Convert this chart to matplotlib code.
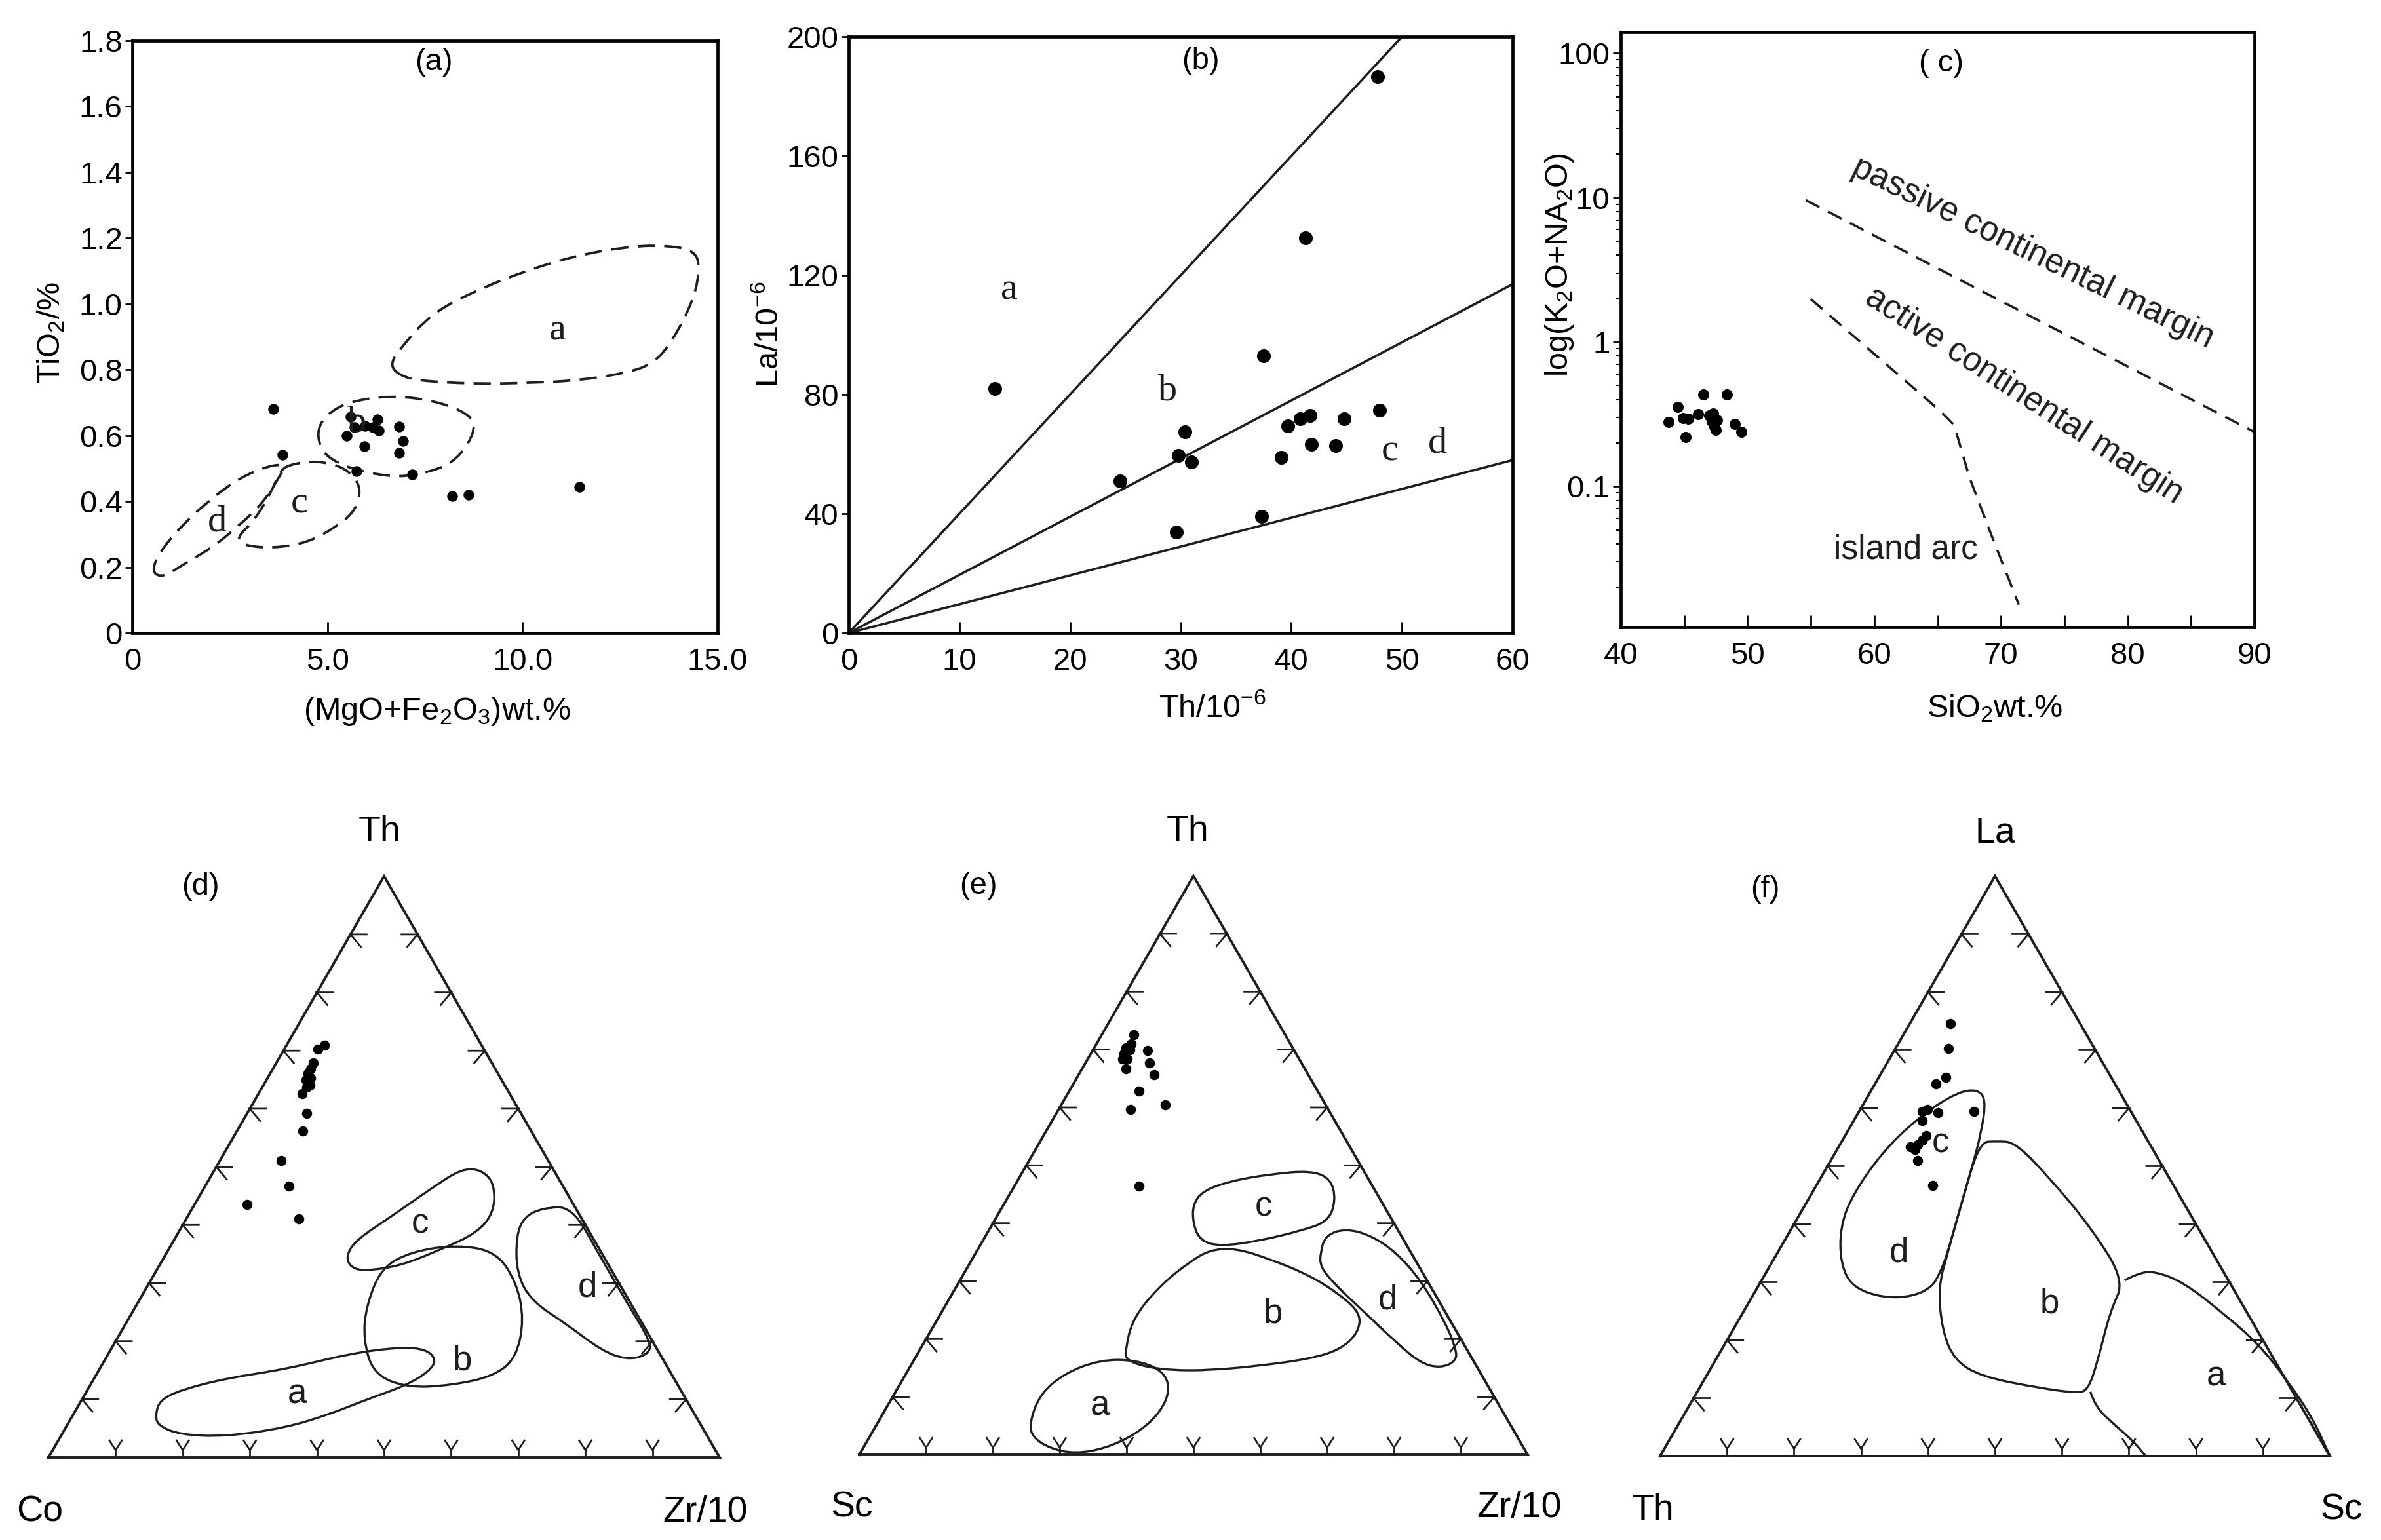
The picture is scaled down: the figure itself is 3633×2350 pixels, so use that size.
import numpy as np
import matplotlib
matplotlib.use("Agg")
import matplotlib.pyplot as plt
from matplotlib.path import Path
from matplotlib.patches import PathPatch
from matplotlib.ticker import FixedLocator, NullFormatter, LogLocator

plt.rcParams["font.family"] = ["Liberation Sans", "DejaVu Sans"]
plt.rcParams["mathtext.fontset"] = "custom"
plt.rcParams["mathtext.rm"] = "Liberation Sans"
plt.rcParams["mathtext.default"] = "regular"

# ---------------- data: (a) TiO2 vs MgO+Fe2O3 ----------------
a_mgfe = [3.61, 3.85, 5.60, 5.50, 5.70, 5.94, 5.97, 6.16, 6.28, 6.31, 6.83, 6.93,
          6.83, 5.75, 7.18, 8.19, 8.62, 11.45]
a_tio2 = [0.68, 0.542, 0.657, 0.60, 0.625, 0.567, 0.63, 0.625, 0.65, 0.615, 0.627, 0.584,
          0.548, 0.492, 0.482, 0.416, 0.42, 0.445]
# dashed fields
fa_x = [6.59, 6.83, 7.70, 8.93, 10.16, 11.39, 12.62, 13.61, 14.47, 14.53, 14.35, 13.85,
        13.36, 12.62, 11.39, 10.16, 8.93, 7.70, 6.96]
fa_y = [0.810, 0.861, 0.975, 1.047, 1.104, 1.147, 1.173, 1.179, 1.162, 1.090, 1.004, 0.889,
        0.818, 0.789, 0.767, 0.760, 0.757, 0.763, 0.775]
fb_x = [4.74, 5.23, 5.97, 6.83, 7.70, 8.44, 8.81, 8.62, 8.19, 7.57, 6.83, 5.97, 5.23, 4.80]
fb_y = [0.631, 0.688, 0.713, 0.720, 0.706, 0.677, 0.638, 0.574, 0.516, 0.488, 0.473, 0.488,
        0.516, 0.559]
fc_x = [4.00, 4.74, 5.48, 5.87, 5.73, 5.23, 4.50, 3.63, 2.89, 2.65, 3.14, 3.57, 3.76]
fc_y = [0.512, 0.524, 0.502, 0.445, 0.373, 0.323, 0.275, 0.258, 0.265, 0.287, 0.344, 0.430,
        0.488]
fd_x = [0.49, 0.68, 1.29, 2.03, 2.77, 3.51, 3.94, 3.69, 3.33, 2.77, 2.03, 1.29, 0.80]
fd_y = [0.184, 0.244, 0.330, 0.409, 0.473, 0.509, 0.512, 0.459, 0.394, 0.330, 0.258, 0.208,
        0.169]

# ---------------- data: (b) La vs Th ----------------
b_th = [13.2, 24.5, 30.4, 29.8, 31.0, 29.6, 37.5, 37.3, 41.3, 47.8, 39.1, 39.7, 40.8, 41.7,
        41.8, 44.0, 44.8, 48.0]
b_la = [81.9, 51.0, 67.5, 59.6, 57.4, 33.9, 93.0, 39.1, 132.6, 186.7, 59.0, 69.4, 71.8, 72.9,
        63.4, 62.8, 71.8, 74.8]
b_line_th = [50, 60, 60]
b_line_la = [200, 117, 58]

# ---------------- data: (c) K2O+Na2O vs SiO2 ----------------
c_si = [43.8, 44.5, 44.9, 45.3, 45.1, 46.1, 46.5, 47.0, 47.2, 47.4, 47.3, 47.6, 47.5, 48.4,
        49.0, 49.5]
c_alk = [0.280, 0.354, 0.298, 0.293, 0.220, 0.318, 0.434, 0.309, 0.282, 0.260, 0.321, 0.287,
         0.247, 0.434, 0.270, 0.238]
c_pass_si = [54.6, 90.0]
c_pass_v = [9.6, 0.238]
c_arc_si = [55.0, 65.2, 66.3, 67.5, 69.2, 71.4]
c_arc_v = [1.98, 0.333, 0.266, 0.116, 0.047, 0.0152]

# ---------------- data: (d) Th - Co - Zr/10 (top %, right %) ----------------
d_th = [70.9, 70.3, 67.9, 66.9, 66.1, 65.3, 64.9, 64.1, 63.7, 62.6, 59.2, 56.1, 51.1, 46.7,
        43.5, 41.0]
d_zr = [5.7, 5.0, 5.5, 5.6, 5.6, 6.4, 5.9, 6.9, 6.6, 6.5, 8.9, 9.8, 9.1, 12.5, 7.8, 16.8]
da_t = [7.5, 9.9, 11.6, 13.6, 15.2, 17.9, 19.0, 18.6, 16.8, 14.8, 12.4, 9.9, 7.5, 5.1, 3.6, 3.9, 5.5]
da_r = [12.2, 11.7, 13.9, 19.6, 27.8, 36.1, 43.0, 47.0, 49.4, 49.3, 47.1, 42.3, 38.3, 32.8, 24.6,
        17.7, 13.5]
db_t = [26.1, 32.6, 35.4, 36.6, 35.4, 30.1, 23.7, 17.2, 14.0, 12.4, 12.0, 14.4, 20.4]
db_r = [34.3, 33.3, 36.3, 42.5, 49.0, 54.7, 59.0, 61.1, 59.4, 53.8, 47.3, 41.2, 36.7]
dc_t = [34.6, 37.4, 41.4, 46.3, 49.7, 49.5, 47.1, 42.2, 38.6, 35.8, 33.0, 32.1, 32.6]
dc_r = [27.0, 27.1, 30.3, 33.9, 36.7, 39.8, 42.9, 45.3, 44.5, 40.6, 36.0, 31.3, 28.8]
dd_t = [38.2, 41.4, 42.9, 43.2, 35.0, 26.5, 19.6, 17.6, 16.8, 18.4, 22.9, 26.9, 31.7]
dd_r = [50.6, 50.2, 52.1, 56.4, 64.5, 73.0, 80.1, 80.4, 77.8, 73.2, 65.8, 58.5, 53.9]

# ---------------- data: (e) Th - Sc - Zr/10 ----------------
e_th = [72.6, 71.0, 70.3, 70.0, 69.3, 68.4, 68.4, 66.7, 69.9, 67.7, 65.7, 62.8, 59.7, 60.5, 46.4]
e_zr = [4.8, 5.2, 4.8, 5.5, 5.0, 5.9, 5.2, 6.6, 8.2, 9.6, 11.3, 10.5, 10.7, 15.5, 18.7]
ea_t = [5.6, 10.5, 14.1, 16.4, 16.4, 14.6, 11.3, 7.2, 3.5, 1.1, 0.2, 1.1, 3.1]
ea_r = [22.7, 21.8, 23.7, 27.8, 33.1, 38.1, 40.9, 41.4, 39.6, 36.2, 32.2, 28.0, 24.3]
eb_t = [17.8, 23.5, 29.3, 33.4, 35.4, 35.7, 33.8, 30.9, 27.6, 24.4, 21.1, 18.2, 16.6, 15.4, 14.6,
        14.6, 15.4, 16.6]
eb_r = [30.9, 29.1, 30.4, 32.8, 34.8, 38.4, 44.6, 52.1, 58.2, 62.8, 64.1, 62.9, 59.2, 52.3, 45.2,
        39.2, 34.3, 31.6]
ec_t = [43.2, 45.6, 47.3, 48.5, 49.1, 47.7, 44.0, 40.3, 38.7, 37.0, 36.0, 37.0, 39.9]
ec_r = [28.3, 28.6, 31.9, 37.3, 43.0, 46.7, 49.3, 50.0, 46.7, 41.5, 36.0, 32.5, 30.0]
ed_t = [35.0, 37.9, 39.1, 37.9, 35.0, 30.1, 22.7, 18.2, 16.2, 15.0, 15.8, 19.5, 24.4, 29.3, 32.5]
ed_r = [51.5, 50.8, 53.2, 57.6, 62.8, 69.0, 76.4, 80.2, 81.2, 79.5, 76.1, 70.5, 63.6, 56.6, 52.7]

# ---------------- data: (f) La - Th - Sc ----------------
f_la = [74.6, 70.3, 65.3, 64.2, 59.8, 59.4, 59.2, 59.4, 57.8, 55.3, 54.5, 53.7, 53.3, 52.9,
        51.0, 46.7]
f_sc = [6.0, 7.9, 10.0, 9.1, 10.0, 9.4, 11.9, 17.2, 10.2, 12.1, 11.9, 11.6, 10.7, 11.6, 13.0, 17.4]
fcd_t = [63.4, 61.8, 55.7, 49.3, 43.6, 34.7, 31.5, 29.1, 27.5, 27.3, 29.1, 33.1, 39.6, 45.2,
         52.5, 58.2, 62.2]
fcd_r = [15.2, 17.8, 20.1, 21.8, 23.2, 25.5, 26.0, 26.0, 23.9, 19.6, 14.2, 10.4, 7.1, 6.2,
         7.0, 9.3, 12.4]
ffb_t = [54.1, 54.3, 54.1, 47.7, 39.6, 30.3, 25.0, 16.2, 11.3, 10.9, 11.7, 13.7, 16.6, 21.8,
         29.1, 34.7, 43.6]
ffb_r = [20.6, 23.1, 26.0, 34.5, 44.4, 54.2, 54.7, 57.2, 58.2, 56.6, 51.0, 41.1, 35.6, 31.2,
         27.0, 25.5, 23.2]
fa_top_t = [30.3, 31.5, 31.9, 29.9, 24.6, 19.4, 12.9, 6.5, 0.0]
fa_top_r = [54.2, 55.5, 57.9, 63.3, 71.8, 79.6, 87.3, 94.2, 100.0]
fa_bot_t = [11.1, 8.5, 5.3, 2.4, 0.0]
fa_bot_r = [58.7, 60.7, 65.3, 69.6, 72.5]

FW, FH = 3633, 2350
fig = plt.figure(figsize=(FW / 100, FH / 100), dpi=100)


def px_axes(l, t, r, b):
    return fig.add_axes([l / FW, 1 - b / FH, (r - l) / FW, (b - t) / FH])


def ftext(x, y, s, **kw):
    fig.text(x / FW, 1 - y / FH, s, ha="center", va="center", **kw)


def smooth_closed(xs, ys):
    pts = np.column_stack([xs, ys])
    mids = (pts + np.roll(pts, -1, axis=0)) / 2
    verts = [mids[-1]]
    codes = [Path.MOVETO]
    for i in range(len(pts)):
        verts += [pts[i], mids[i]]
        codes += [Path.CURVE3, Path.CURVE3]
    return Path(verts, codes)


def smooth_open(xs, ys):
    pts = np.column_stack([xs, ys])
    verts = [pts[0]]
    codes = [Path.MOVETO]
    for i in range(1, len(pts) - 1):
        verts += [pts[i], (pts[i] + pts[i + 1]) / 2]
        codes += [Path.CURVE3, Path.CURVE3]
    verts.append(pts[-1])
    codes.append(Path.LINETO)
    return Path(verts, codes)


def frame(ax):
    for sp in ax.spines.values():
        sp.set_linewidth(3.4)


TICK = 34
LABEL = 35
SERIF = ["Liberation Serif", "DejaVu Serif"]
INK = "#1e1e1e"

# ---------------- (a) ----------------
ax = px_axes(202, 62, 1095, 966)
frame(ax)
ax.set_xlim(0, 15)
ax.set_ylim(0, 1.8)
ax.set_xticks([0, 5, 10, 15])
ax.set_xticklabels(["0", "5.0", "10.0", "15.0"])
ax.set_yticks(np.arange(0, 1.81, 0.2))
ax.set_yticklabels(["0"] + [f"{v:.1f}" for v in np.arange(0.2, 1.81, 0.2)])
ax.tick_params(axis="x", direction="in", length=12, width=2, pad=16, labelsize=TICK)
ax.tick_params(axis="y", direction="out", length=8, width=2, pad=3, labelsize=TICK)
for xs, ys in [(fa_x, fa_y), (fb_x, fb_y), (fc_x, fc_y), (fd_x, fd_y)]:
    ax.add_patch(PathPatch(smooth_closed(xs, ys), fill=False, lw=2.7,
                           ls=(0, (7, 3.8)), color=INK))
ax.scatter(a_mgfe, a_tio2, s=140, c="black", lw=0, zorder=3)
for lab, x, y in [("a", 10.9, 0.918), ("b", 5.75, 0.64), ("c", 4.27, 0.394), ("d", 2.18, 0.337)]:
    ax.text(x, y, lab, fontsize=42, family=SERIF, ha="center", va="center", color=INK)
ax.text(7.73, 1.735, "(a)", fontsize=TICK, ha="center", va="center")
ftext(667, 1085, "(MgO+Fe$_2$O$_3$)wt.%", fontsize=LABEL)
ftext(78, 508, "TiO$_2$/%", fontsize=LABEL, rotation=90)

# ---------------- (b) ----------------
ax = px_axes(1295, 56, 2308, 966)
frame(ax)
ax.set_xlim(0, 60)
ax.set_ylim(0, 200)
ax.set_xticks(range(0, 61, 10))
ax.set_yticks(range(0, 201, 40))
ax.tick_params(axis="x", direction="in", length=12, width=2, pad=16, labelsize=TICK)
ax.tick_params(axis="y", direction="out", length=8, width=2, pad=3, labelsize=TICK)
for xe, ye in zip(b_line_th, b_line_la):
    ax.plot([0, xe], [0, ye], color=INK, lw=2.6)
ax.scatter(b_th, b_la, s=230, c="black", lw=0, zorder=3)
for lab, x, y in [("a", 14.5, 115), ("b", 28.8, 81.3), ("c", 48.9, 61.0), ("d", 53.2, 63.7)]:
    ax.text(x, y, lab, fontsize=42, family=SERIF, ha="center", va="center", color=INK)
ax.text(31.8, 191.8, "(b)", fontsize=TICK, ha="center", va="center")
ftext(1850, 1081, "Th/10$^{-6}$", fontsize=LABEL)
ftext(1174, 510, "La/10$^{-6}$", fontsize=LABEL, rotation=90)

# ---------------- (c) ----------------
ax = px_axes(2473, 49, 3440, 957)
frame(ax)
ax.set_xlim(40, 90)
ax.set_yscale("log")
ax.set_ylim(0.0106, 140)
ax.set_xticks(range(40, 91, 10))
ax.xaxis.set_minor_locator(FixedLocator(range(45, 90, 10)))
ax.set_yticks([0.1, 1, 10, 100])
ax.set_yticklabels(["0.1", "1", "10", "100"])
ax.yaxis.set_minor_locator(LogLocator(base=10, subs=np.arange(2, 10)))
ax.yaxis.set_minor_formatter(NullFormatter())
ax.tick_params(axis="x", which="both", direction="in", length=13, width=2, pad=16,
               labelsize=TICK)
ax.tick_params(axis="y", which="major", direction="out", length=9, width=2, pad=3,
               labelsize=TICK)
ax.tick_params(axis="y", which="minor", direction="out", length=5, width=1.5)
ax.plot(c_pass_si, c_pass_v, color=INK, lw=2.6, ls=(0, (6.5, 4)))
ax.plot(c_arc_si, c_arc_v, color=INK, lw=2.6, ls=(0, (6.5, 4)))
ax.scatter(c_si, c_alk, s=150, c="black", lw=0, zorder=3)
ax.text(72.5, 4.15, "passive continental margin", fontsize=37, rotation=-26,
        ha="center", va="center", color=INK)
ax.text(71.8, 0.424, "active continental margin", fontsize=37, rotation=-33,
        ha="center", va="center", color=INK)
ax.text(62.5, 0.0362, "island arc", fontsize=37, ha="center", va="center", color=INK)
ax.text(65.3, 85, "( c)", fontsize=TICK, ha="center", va="center")
ftext(3044, 1081, "SiO$_2$wt.%", fontsize=LABEL)
ftext(2379, 404, "log(K$_2$O+NA$_2$O)", fontsize=LABEL, rotation=90)

# ---------------- ternary diagrams ----------------
H = np.sqrt(3) / 2


def tern_xy(top, right):
    t = np.asarray(top, dtype=float) / 100
    r = np.asarray(right, dtype=float) / 100
    return r + t / 2, t * H


def tern_axes(lx, ly, w):
    m = 0.12
    ax = px_axes(lx - m * w, ly - (H + m) * w, lx + (1 + m) * w, ly + m * w)
    ax.set_xlim(-m, 1 + m)
    ax.set_ylim(-m, H + m)
    ax.axis("off")
    ax.plot([0, 1, 0.5, 0], [0, 0, H, 0], color=INK, lw=2.8, solid_joinstyle="miter")
    s = 0.024
    c50, s50 = np.cos(np.radians(50)), np.sin(np.radians(50))
    kw = dict(color=INK, lw=2.0, solid_joinstyle="miter")
    for k in range(1, 10):
        f = k / 10
        # left side
        px, py = f / 2, f * H
        ax.plot([px + s, px, px + s * c50], [py, py, py - s * s50], **kw)
        # right side
        px, py = 1 - f / 2, f * H
        ax.plot([px - s, px, px - s * c50], [py, py, py - s * s50], **kw)
        # base
        px = f
        st, arm = 0.011, 0.017
        dx, dy = arm * np.sin(np.radians(33)), arm * np.cos(np.radians(33))
        ax.plot([px, px], [0, st], **kw)
        ax.plot([px - dx, px, px + dx], [st + dy, st, st + dy], **kw)
    return ax


def tern_labels(ax, top, left, right, panel, top_pos, left_pos, right_pos, panel_pos):
    ax.text(*top_pos, top, fontsize=40, ha="center", va="center")
    ax.text(*left_pos, left, fontsize=40, ha="center", va="center")
    ax.text(*right_pos, right, fontsize=40, ha="center", va="center")
    ax.text(*panel_pos, panel, fontsize=TICK, ha="center", va="center")


def region(ax, t, r):
    x, y = tern_xy(t, r)
    ax.add_patch(PathPatch(smooth_closed(x, y), fill=False, lw=2.4, color=INK))


def region_label(ax, lab, t, r):
    x, y = tern_xy(t, r)
    ax.text(x, y, lab, fontsize=38, ha="center", va="center", color=INK)


# (d)
ax = tern_axes(74, 2224, 1024)
for t, r in [(da_t, da_r), (db_t, db_r), (dc_t, dc_r), (dd_t, dd_r)]:
    region(ax, t, r)
x, y = tern_xy(d_th, d_zr)
ax.scatter(x, y, s=125, c="black", lw=0, zorder=3)
for lab, t, r in [("a", 10.9, 31.6), ("b", 16.6, 53.4), ("c", 40.2, 35.3), ("d", 29.3, 65.7)]:
    region_label(ax, lab, t, r)
tern_labels(ax, "Th", "Co", "Zr/10", "(d)", (0.493, 0.932), (-0.013, -0.082),
            (0.978, -0.082), (0.226, 0.851))

# (e)
ax = tern_axes(1311, 2220, 1020)
for t, r in [(ea_t, ea_r), (eb_t, eb_r), (ec_t, ec_r), (ed_t, ed_r)]:
    region(ax, t, r)
x, y = tern_xy(e_th, e_zr)
ax.scatter(x, y, s=125, c="black", lw=0, zorder=3)
for lab, t, r in [("a", 8.4, 31.8), ("b", 24.4, 49.7), ("c", 42.8, 39.1), ("d", 26.8, 65.7)]:
    region_label(ax, lab, t, r)
tern_labels(ax, "Th", "Sc", "Zr/10", "(e)", (0.491, 0.932), (-0.011, -0.079),
            (0.987, -0.079), (0.178, 0.851))

# (f)
ax = tern_axes(2533, 2222, 1022)
region(ax, fcd_t, fcd_r)
region(ax, ffb_t, ffb_r)
for t, r in [(fa_top_t, fa_top_r), (fa_bot_t, fa_bot_r)]:
    x, y = tern_xy(t, r)
    ax.add_patch(PathPatch(smooth_open(x, y), fill=False, lw=2.4, color=INK))
x, y = tern_xy(f_la, f_sc)
ax.scatter(x, y, s=125, c="black", lw=0, zorder=3)
for lab, t, r in [("a", 13.7, 76.2), ("b", 26.3, 45.0), ("c", 54.0, 14.9), ("d", 35.1, 18.1)]:
    region_label(ax, lab, t, r)
tern_labels(ax, "La", "Th", "Sc", "(f)", (0.5, 0.930), (-0.011, -0.081),
            (1.017, -0.081), (0.157, 0.846))

fig.savefig("out.png", dpi=100, facecolor="white")
